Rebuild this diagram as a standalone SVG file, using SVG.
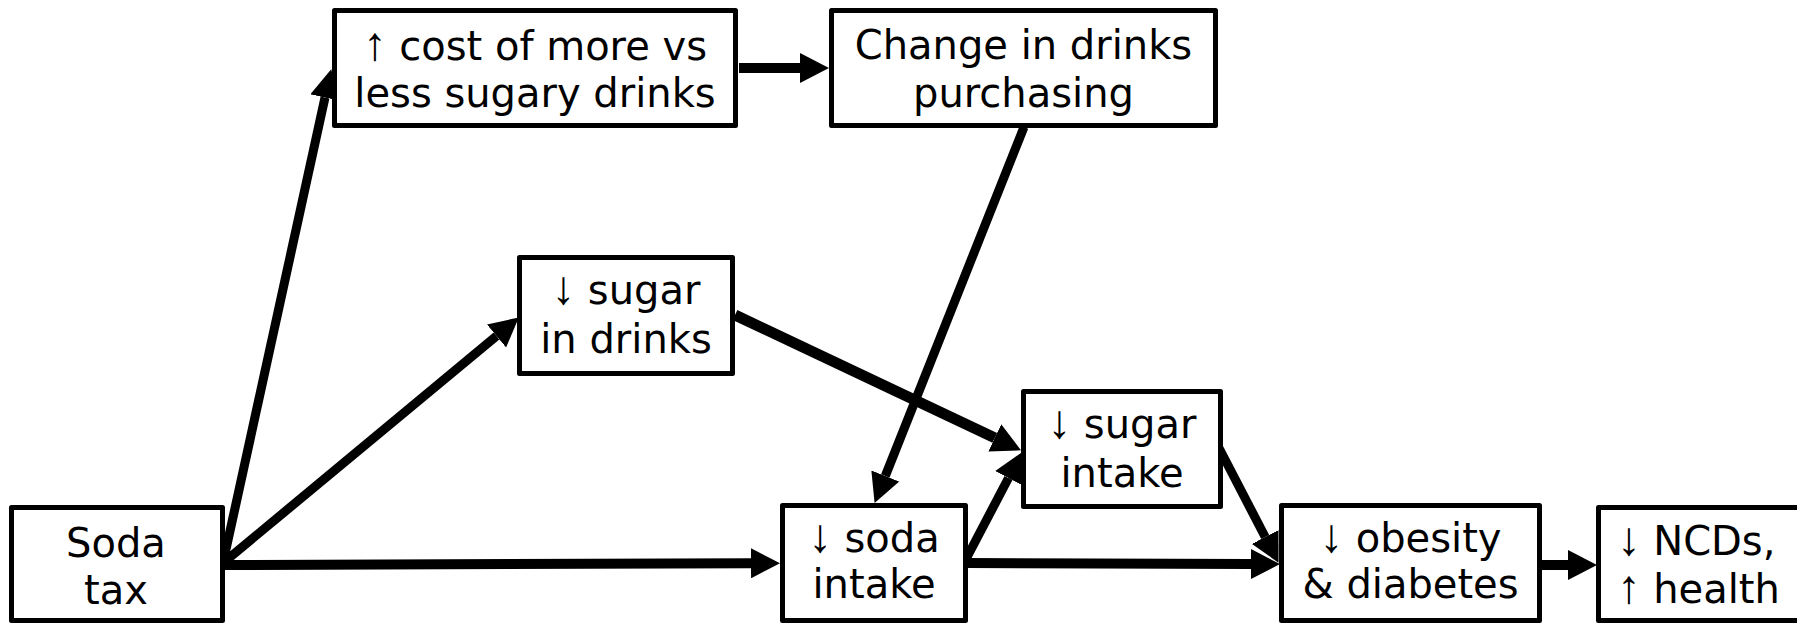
<svg xmlns="http://www.w3.org/2000/svg" width="1797" height="623" viewBox="0 0 1797 623">
<style>
.box{fill:#fff;stroke:#000;stroke-width:5;stroke-linejoin:round}
.lbl{font-family:"DejaVu Sans","Verdana",sans-serif;font-size:40px;fill:#000;text-anchor:middle}
.ar{font-family:"Liberation Sans",Arial,sans-serif;font-size:47px}
.c{stroke:#000;fill:none;stroke-linecap:butt;marker-end:url(#ah)}
</style>
<defs>
<marker id="ah" markerUnits="userSpaceOnUse" markerWidth="30" markerHeight="30" refX="0" refY="15" orient="auto" viewBox="0 0 30 30">
<path d="M0,0 L29,15 L0,30 z" fill="#000"/>
</marker>
</defs>
<rect width="1797" height="623" fill="#fff"/>
<g id="connectors">
<line class="c" x1="223" y1="563" x2="325" y2="97.5" stroke-width="9"/>
<line class="c" x1="223" y1="563" x2="496.5" y2="336" stroke-width="9"/>
<line class="c" x1="223" y1="565" x2="751" y2="563.3" stroke-width="10"/>
<line class="c" x1="739" y1="68" x2="800" y2="68" stroke-width="10"/>
<line class="c" x1="1024" y1="127" x2="885.3" y2="476" stroke-width="9"/>
<line class="c" x1="735" y1="315" x2="994.8" y2="437.9" stroke-width="11"/>
<line class="c" x1="965" y1="561" x2="1008.5" y2="478" stroke-width="9"/>
<line class="c" x1="1219" y1="448" x2="1265.2" y2="537" stroke-width="9"/>
<line class="c" x1="967" y1="563" x2="1251" y2="564" stroke-width="10"/>
<line class="c" x1="1542" y1="565" x2="1568" y2="565" stroke-width="10"/>
</g>
<g id="cost">
<rect class="box" x="334.5" y="10.5" width="401" height="115"/>
<text class="lbl" x="535" y="60"><tspan class="ar">↑</tspan> cost of more vs</text>
<text class="lbl" x="535" y="107">less sugary drinks</text>
</g>
<g id="purchasing">
<rect class="box" x="831.5" y="10.5" width="384" height="115"/>
<text class="lbl" x="1023.5" y="59">Change in drinks</text>
<text class="lbl" x="1023.5" y="107">purchasing</text>
</g>
<g id="sugar-drinks">
<rect class="box" x="519.5" y="257.5" width="213" height="116"/>
<text class="lbl" x="626" y="304"><tspan class="ar">↓</tspan> sugar</text>
<text class="lbl" x="626" y="353">in drinks</text>
</g>
<g id="sugar-intake">
<rect class="box" x="1023.5" y="391.5" width="197" height="115"/>
<text class="lbl" x="1122" y="438"><tspan class="ar">↓</tspan> sugar</text>
<text class="lbl" x="1122" y="487">intake</text>
</g>
<g id="soda-tax">
<rect class="box" x="11.5" y="507.5" width="211" height="113"/>
<text class="lbl" x="116" y="557">Soda</text>
<text class="lbl" x="116" y="604">tax</text>
</g>
<g id="soda-intake">
<rect class="box" x="782.5" y="505.5" width="183" height="115"/>
<text class="lbl" x="874" y="552"><tspan class="ar">↓</tspan> soda</text>
<text class="lbl" x="874" y="598">intake</text>
</g>
<g id="obesity">
<rect class="box" x="1281.5" y="505.5" width="258" height="115"/>
<text class="lbl" x="1410.5" y="552"><tspan class="ar">↓</tspan> obesity</text>
<text class="lbl" x="1410.5" y="598">&amp; diabetes</text>
</g>
<g id="ncds">
<rect class="box" x="1598.5" y="507.5" width="230" height="113"/>
<text class="lbl" x="1617" y="555" style="text-anchor:start"><tspan class="ar">↓</tspan> NCDs,</text>
<text class="lbl" x="1617" y="603" style="text-anchor:start"><tspan class="ar">↑</tspan> health</text>
</g>
</svg>
